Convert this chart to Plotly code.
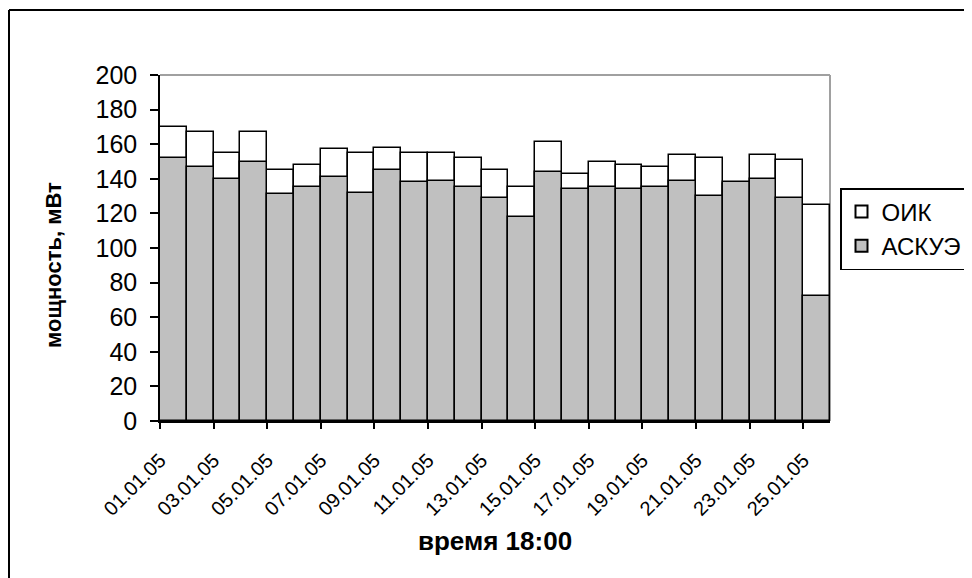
import plotly.graph_objects as go

dates = ["%02d.01.05" % d for d in range(1, 26)]
oik = [170, 167, 155, 167, 145, 148, 157, 155, 158, 155, 155, 152, 145,
       135, 161, 143, 150, 148, 147, 154, 152, 137, 154, 151, 125]
askue = [152, 147, 140, 150, 131, 135, 141, 132, 145, 138, 139, 135, 129,
         118, 144, 134, 135, 134, 135, 139, 130, 138, 140, 129, 72]
tick_labels = dates[::2]
y_ticks = list(range(0, 201, 20))

FONT = "Arial, Liberation Sans, sans-serif"
x_pos = list(range(len(dates)))

# page has an 8px body margin
OFF = 8
W, H = 972 - OFF, 578 - OFF
L, R, T, B = 160 - OFF, 142, 75 - OFF, 157
PW, PH = W - L - R, H - T - B


def px(X):
    return (X - OFF - L) / PW


def py(Y):
    return (H - B - (Y - OFF)) / PH


fig = go.Figure()
fig.add_trace(go.Bar(x=x_pos, y=oik, name="ОИК",
                     marker=dict(color="white", line=dict(color="black", width=1.5))))
fig.add_trace(go.Bar(x=x_pos, y=askue, name="АСКУЭ",
                     marker=dict(color="#C0C0C0", line=dict(color="black", width=1.5))))

fig.update_layout(
    width=W, height=H,
    margin=dict(l=L, r=R, t=T, b=B, autoexpand=False),
    barmode="overlay", bargap=0,
    paper_bgcolor="white", plot_bgcolor="white",
    font=dict(family=FONT, color="black"),
    showlegend=True,
    legend=dict(x=px(840), xanchor="left", y=py(188), yanchor="top",
                bordercolor="black", borderwidth=1.5, bgcolor="white",
                font=dict(size=24, family=FONT), traceorder="normal",
                itemsizing="constant", tracegroupgap=2),
    xaxis=dict(range=[-0.5, len(dates) - 0.5], tickmode="array",
               tickvals=[i - 0.5 for i in range(0, len(dates), 2)],
               ticktext=tick_labels, tickangle=-45,
               tickfont=dict(size=20, family=FONT),
               ticks="outside", ticklen=6, tickcolor="black", tickwidth=1.5,
               showline=True, linecolor="black", linewidth=1.5,
               showgrid=False, zeroline=False, ticklabelstandoff=12),
    yaxis=dict(range=[0, 200], tickmode="array", tickvals=y_ticks,
               tickfont=dict(size=25, family=FONT),
               ticks="outside", ticklen=8, tickcolor="black", tickwidth=1.5,
               showline=True, linecolor="black", linewidth=1.5,
               showgrid=False, zeroline=False, ticklabelstandoff=8),
    shapes=[
        dict(type="line", xref="paper", yref="paper", x0=0, x1=1, y0=1, y1=1,
             line=dict(color="#A0A0A0", width=2), layer="below"),
        dict(type="line", xref="paper", yref="paper", x0=1, x1=1, y0=0, y1=1,
             line=dict(color="#A0A0A0", width=2), layer="below"),
        # outer chart frame (top and left edges visible)
        dict(type="line", xref="paper", yref="paper",
             x0=px(9), x1=px(990), y0=py(10), y1=py(10),
             line=dict(color="black", width=2)),
        dict(type="line", xref="paper", yref="paper",
             x0=px(9), x1=px(9), y0=py(10), y1=py(600),
             line=dict(color="black", width=2)),
    ],
    annotations=[
        dict(text="<b>время 18:00</b>", xref="paper", yref="paper",
             x=px(495), y=py(541), xanchor="center", yanchor="middle",
             showarrow=False, font=dict(size=26, family=FONT)),
        dict(text="<b>мощность, мВт</b>", xref="paper", yref="paper",
             x=px(53), y=py(265), xanchor="center", yanchor="middle",
             textangle=-90, showarrow=False, font=dict(size=22, family=FONT)),
    ],
)

fig.write_html("out.html")
